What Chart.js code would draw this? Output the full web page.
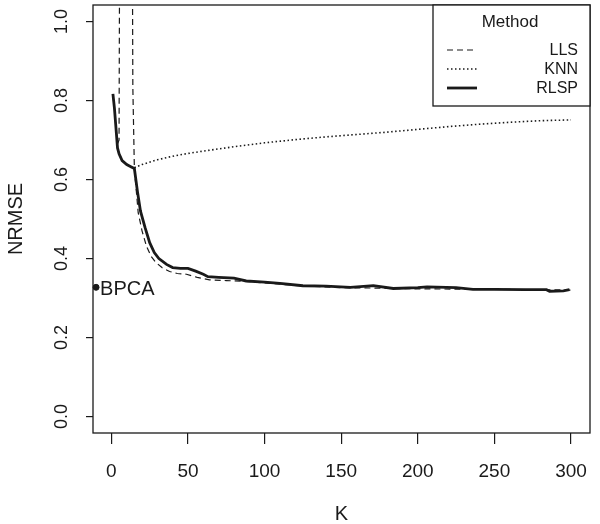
<!DOCTYPE html>
<html>
<head>
<meta charset="utf-8">
<script src="https://cdn.jsdelivr.net/npm/chart.js@4"></script>
<style>
  html,body{margin:0;padding:0;background:#fff;}
  #wrap{width:600px;height:524px;}
</style>
</head>
<body>
<div id="wrap"><canvas id="c" width="600" height="524"></canvas></div>
<script>
// values
const rlspK    = [1,2,3,4,5,7,10,13,15,17,19,22,25,28,31,36,40,45,50,55,60,63,70,80,88,100,110,125,140,156,171,184,200,206,225,236,250,270,284,286,295,299];
const rlspVals = [0.817,0.78,0.73,0.68,0.665,0.648,0.638,0.632,0.628,0.57,0.52,0.478,0.44,0.415,0.40,0.385,0.377,0.375,0.375,0.368,0.36,0.354,0.352,0.35,0.343,0.34,0.337,0.331,0.33,0.327,0.331,0.324,0.326,0.328,0.326,0.322,0.322,0.321,0.321,0.317,0.318,0.321];
const llsK     = [1,2,3,4,5,6,13,14,15,17.5,20,23,26,29,33,38,43,49,56,64,75,88,100,123,150,175,200,250,300];
const llsVals  = [0.815,0.78,0.73,0.69,0.70,2.0,2.0,0.835,0.628,0.516,0.47,0.43,0.405,0.39,0.377,0.367,0.362,0.36,0.352,0.346,0.344,0.342,0.338,0.331,0.326,0.325,0.323,0.322,0.32];
const knnK     = [15,20,30,40,50,60,80,100,120,140,160,180,200,220,240,260,280,300];
const knnVals  = [0.630,0.638,0.650,0.659,0.666,0.672,0.683,0.693,0.701,0.708,0.714,0.720,0.727,0.734,0.740,0.745,0.749,0.751];
const bpcaK    = [-10];
const bpcaVal  = [0.327];
const xTicks   = [0,50,100,150,200,250,300];
const yTicks   = [0,0.2,0.4,0.6,0.8,1.0];
const legendNames = ['LLS','KNN','RLSP'];

const FONT = "'Liberation Sans', Arial, sans-serif";
const INK = '#1a1a1a';

function pts(xs, ys){ return xs.map((x,i)=>({x:x, y:ys[i]})); }

const rPlot = {
  id:'rPlot',
  afterDraw(chart){
    const ctx = chart.ctx, a = chart.chartArea;
    const ys = chart.scales.y, xs = chart.scales.x;
    ctx.save();
    // box
    ctx.strokeStyle = INK; ctx.lineWidth = 1.3;
    ctx.strokeRect(a.left, a.top, a.right - a.left, a.bottom - a.top);
    // rotated y tick labels
    ctx.fillStyle = INK;
    ctx.font = '18px ' + FONT;
    ctx.textAlign = 'center'; ctx.textBaseline = 'middle';
    yTicks.forEach(v => {
      const py = ys.getPixelForValue(v);
      ctx.save();
      ctx.translate(62, py);
      ctx.rotate(-Math.PI/2);
      ctx.fillText(v.toFixed(1), 0, 0);
      ctx.restore();
    });
    // BPCA label
    ctx.font = '20px ' + FONT;
    ctx.textAlign = 'left';
    ctx.fillText('BPCA', xs.getPixelForValue(bpcaK[0]) + 4, ys.getPixelForValue(bpcaVal[0]) + 2);
    // legend
    const lx = 433, ly = a.top, lw = a.right - lx, lh = 101;
    ctx.fillStyle = '#fff';
    ctx.fillRect(lx, ly, lw, lh);
    ctx.strokeStyle = INK; ctx.lineWidth = 1.3;
    ctx.strokeRect(lx, ly, lw, lh);
    ctx.fillStyle = INK;
    ctx.font = '17px ' + FONT;
    ctx.textAlign = 'center';
    ctx.fillText('Method', 510, 22);
    const styles = chart.data.datasets.slice(0,3);
    const rows = [50, 69, 88];
    legendNames.forEach((name, i) => {
      const ds = styles[i];
      ctx.beginPath();
      ctx.setLineDash(ds.borderDash || []);
      ctx.lineWidth = ds.borderWidth;
      ctx.moveTo(447, rows[i]); ctx.lineTo(477, rows[i]);
      ctx.stroke();
      ctx.setLineDash([]);
      ctx.font = '16px ' + FONT;
      ctx.textAlign = 'right';
      ctx.fillText(name, 578, rows[i] + 1);
    });
    ctx.restore();
  }
};

new Chart(document.getElementById('c'), {
  type:'line',
  data:{
    datasets:[
      {label:'LLS', data:pts(llsK, llsVals), borderColor:INK, borderWidth:1.2, borderDash:[6,4], pointRadius:0, tension:0, clip:0},
      {label:'KNN', data:pts(knnK, knnVals), borderColor:INK, borderWidth:1.6, borderDash:[1.5,2.5], pointRadius:0, tension:0, clip:0},
      {label:'RLSP', data:pts(rlspK, rlspVals), borderColor:INK, borderWidth:2.8, pointRadius:0, tension:0, clip:0},
      {label:'BPCA', data:pts(bpcaK, bpcaVal), showLine:false, pointRadius:3, pointBackgroundColor:INK, pointBorderColor:INK, clip:false}
    ]
  },
  options:{
    responsive:false,
    animation:false,
    devicePixelRatio:1,
    layout:{padding:{top:5, right:10, left:0, bottom:0}},
    plugins:{legend:{display:false}, tooltip:{enabled:false}},
    scales:{
      x:{
        type:'linear', min:-12, max:312.4,
        afterBuildTicks(s){ s.ticks = xTicks.map(v=>({value:v})); },
        afterFit(s){ s.height = 91; s.paddingLeft = 0; s.paddingRight = 0; },
        grid:{drawOnChartArea:false, drawTicks:true, tickLength:11, color:INK, lineWidth:1.2},
        border:{display:false},
        ticks:{color:INK, font:{family:FONT, size:19}, padding:16, maxRotation:0, callback:v=>String(v)},
        title:{display:true, text:'K', color:INK, font:{family:FONT, size:20, lineHeight:1.0}, padding:{top:0, bottom:0}}
      },
      y:{
        type:'linear', min:-0.042, max:1.042,
        afterBuildTicks(s){ s.ticks = yTicks.map(v=>({value:v})); },
        afterFit(s){ s.width = 93; s.paddingTop = 0; s.paddingBottom = 0; },
        grid:{drawOnChartArea:false, drawTicks:true, tickLength:7, color:INK, lineWidth:1.2},
        border:{display:false},
        ticks:{display:false},
        title:{display:true, text:'NRMSE', color:INK, font:{family:FONT, size:20}, padding:{top:4, bottom:0}}
      }
    }
  },
  plugins:[rPlot]
});
</script>
</body>
</html>
